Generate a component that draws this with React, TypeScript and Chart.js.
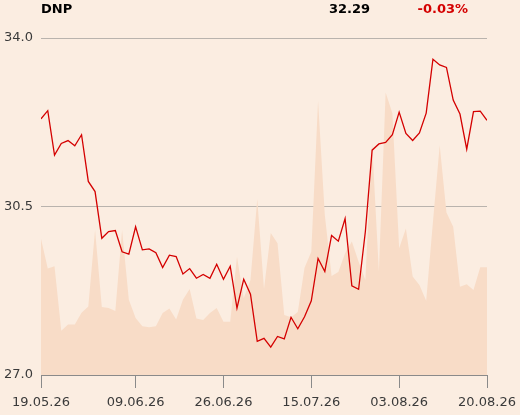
import React, { useEffect, useRef } from "react";
import { Chart, registerables } from "chart.js";

Chart.register(...registerables);

const tickIndex = [0, 14, 27, 40, 53, 66];
const tickLabels = ["19.05.26", "09.06.26", "26.06.26", "15.07.26", "03.08.26", "20.08.26"];
const priceTicks = [27.0, 30.5, 34.0];

const prices = [
  32.32, 32.49, 31.57, 31.81, 31.87, 31.76, 31.99, 31.02, 30.81, 29.84,
  29.98, 30.0, 29.56, 29.51, 30.08, 29.6, 29.62, 29.54, 29.23, 29.49,
  29.46, 29.1, 29.21, 29.01, 29.09, 29.01, 29.3, 28.99, 29.26, 28.39,
  28.99, 28.68, 27.7, 27.76, 27.58, 27.8, 27.75, 28.2, 27.96, 28.21,
  28.54, 29.42, 29.15, 29.9, 29.78, 30.25, 28.85, 28.78, 29.98, 31.67,
  31.8, 31.83, 31.99, 32.46, 32.02, 31.87, 32.03, 32.44, 33.56, 33.44,
  33.39, 32.71, 32.42, 31.69, 32.47, 32.48, 32.29,
];

const volumes = [
  404, 316, 323, 131, 150, 150, 185, 203, 430, 202,
  199, 190, 430, 223, 169, 145, 142, 145, 184, 197,
  165, 223, 255, 168, 163, 184, 199, 158, 158, 351,
  228, 282, 522, 255, 421, 391, 178, 171, 187, 318,
  366, 814, 475, 294, 306, 361, 396, 336, 282, 688,
  307, 838, 777, 376, 435, 292, 267, 220, 454, 682,
  482, 440, 262, 269, 252, 320, 320,
];

const title = "DNP";
const lastPrice = "32.29";
const change = "-0.03%";

const BG = "#FBEDE1";
const RED = "#D40000";
const FONT = "'DejaVu Sans', sans-serif";

export default function App() {
  const ref = useRef<HTMLCanvasElement | null>(null);

  useEffect(() => {
    document.body.style.margin = "0";
    document.body.style.background = BG;
    const canvas = ref.current;
    if (!canvas) return;

    const headerPlugin = {
      id: "header",
      afterDraw(chart: any) {
        const ctx = chart.ctx;
        ctx.save();
        ctx.font = `bold 13px ${FONT}`;
        ctx.textBaseline = "middle";
        ctx.fillStyle = "#000000";
        ctx.textAlign = "left";
        ctx.fillText(title, 41, 10);
        ctx.textAlign = "right";
        ctx.fillText(lastPrice, 370, 10);
        ctx.fillStyle = RED;
        ctx.fillText(change, 468, 10);
        ctx.restore();
      },
    };

    const chart = new Chart(canvas, {
      type: "line",
      data: {
        datasets: [
          {
            label: "Price",
            data: prices.map((v, i) => ({ x: i, y: v })),
            borderColor: RED,
            borderWidth: 1.3,
            pointRadius: 0,
            tension: 0,
            fill: false,
            yAxisID: "y",
          },
          {
            label: "Volume",
            data: volumes.map((v, i) => ({ x: i, y: v })),
            borderWidth: 0,
            borderColor: "rgba(0,0,0,0)",
            backgroundColor: "#F8DCC7",
            pointRadius: 0,
            tension: 0,
            fill: "origin",
            yAxisID: "y2",
          },
        ],
      },
      options: {
        animation: false,
        responsive: false,
        maintainAspectRatio: false,
        layout: { padding: { top: 38, right: 33, left: 0, bottom: 0 } },
        plugins: {
          legend: { display: false },
          tooltip: { enabled: false },
          title: { display: false },
        },
        scales: {
          x: {
            type: "linear",
            min: 0,
            max: tickIndex[tickIndex.length - 1],
            afterBuildTicks(scale: any) {
              scale.ticks = tickIndex.map((v) => ({ value: v }));
            },
            afterFit(scale: any) {
              scale.height = 40;
              scale.paddingLeft = 0;
              scale.paddingRight = 0;
            },
            ticks: {
              autoSkip: false,
              maxRotation: 0,
              padding: 7,
              color: "#3a3a3a",
              font: { family: FONT, size: 13 },
              callback: (v: any) => {
                const k = tickIndex.indexOf(Number(v));
                return k >= 0 ? tickLabels[k] : "";
              },
            },
            grid: {
              display: true,
              drawOnChartArea: false,
              drawTicks: true,
              tickLength: 13,
              tickColor: "#8a8a8a",
              color: "#8a8a8a",
            },
            border: { display: true, color: "#8a8a8a", width: 1 },
          },
          y: {
            type: "linear",
            position: "left",
            min: priceTicks[0],
            max: priceTicks[priceTicks.length - 1],
            afterBuildTicks(scale: any) {
              scale.ticks = priceTicks.map((v) => ({ value: v }));
            },
            afterFit(scale: any) {
              scale.width = 41;
              scale.paddingTop = 0;
              scale.paddingBottom = 0;
            },
            ticks: {
              padding: 8,
              color: "#3a3a3a",
              font: { family: FONT, size: 13 },
              callback: (v: any) => Number(v).toFixed(1),
            },
            grid: {
              color: "#B9B3AD",
              lineWidth: 1,
              drawTicks: false,
            },
            border: { display: false },
          },
          y2: {
            type: "linear",
            display: false,
            min: 0,
            max: 1000,
          },
        },
      },
      plugins: [headerPlugin],
    });

    return () => chart.destroy();
  }, []);

  return (
    <div style={{ position: "fixed", left: 0, top: 0, width: 520, height: 415, background: BG }}>
      <canvas ref={ref} width={520} height={415} style={{ display: "block", width: 520, height: 415 }} />
    </div>
  );
}
